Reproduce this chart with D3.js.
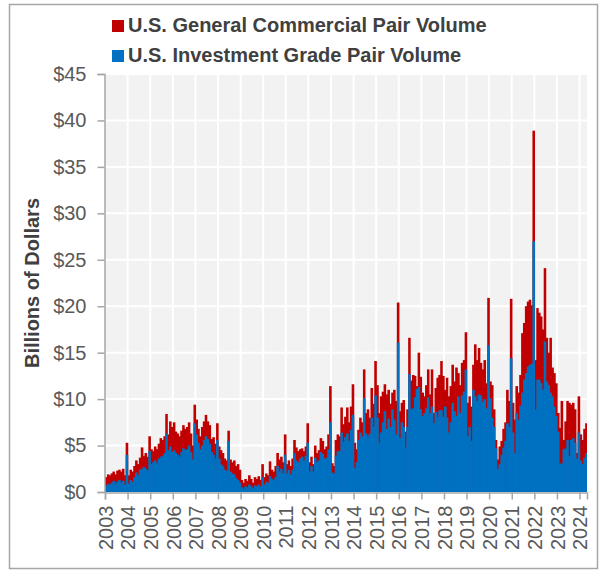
<!DOCTYPE html>
<html>
<head>
<meta charset="utf-8">
<script src="https://cdn.jsdelivr.net/npm/d3@7"></script>
<style>
  html, body { margin: 0; padding: 0; background: #fff; }
  svg { display: block; font-family: "Liberation Sans", Arial, sans-serif; }
</style>
</head>
<body>
<div id="chart"></div>
<script>
// monthly volumes, Jan 2003 .. Apr 2024 (billions of dollars)
// general commercial = full bar height, investment grade = blue part
const generalCommercial = [
  1.6, 1.9, 1.8, 2.0, 2.2, 1.9, 2.3, 2.4, 2.2, 2.5, 1.8, 5.3,        // 2003
  1.8, 2.4, 2.2, 2.8, 3.4, 3.0, 3.7, 4.8, 3.9, 4.2, 3.8, 6.0,        // 2004
  4.6, 4.4, 4.9, 4.6, 5.2, 5.8, 5.6, 6.0, 8.4, 6.2, 7.6, 7.0,        // 2005
  7.5, 6.5, 6.3, 6.0, 6.6, 7.2, 6.8, 7.0, 7.5, 6.3, 5.0, 9.4,        // 2006
  7.8, 6.8, 6.0, 7.0, 7.6, 8.3, 7.6, 7.2, 5.7, 5.9, 5.2, 7.4,        // 2007
  4.9, 4.5, 4.2, 3.6, 3.4, 6.6, 3.5, 3.2, 3.4, 2.8, 3.0, 2.4,        // 2008
  1.3, 1.0, 1.4, 1.2, 1.8, 1.4, 1.0, 1.6, 1.4, 1.7, 1.3, 3.0,        // 2009
  1.6, 2.0, 1.8, 3.3, 2.4, 2.2, 2.8, 4.2, 3.5, 3.8, 3.2, 6.2,        // 2010
  3.0, 3.4, 2.8, 3.6, 5.6, 4.8, 4.4, 4.6, 4.7, 4.4, 4.9, 7.4,        // 2011
  3.2, 3.8, 3.0, 5.0, 4.2, 4.5, 5.8, 5.5, 4.6, 4.9, 6.2, 11.4,       // 2012
  3.1, 2.8, 5.6, 6.2, 6.0, 9.1, 7.3, 8.1, 9.1, 7.5, 9.2, 11.6,       // 2013
  5.3, 4.6, 6.7, 8.0, 7.5, 13.2, 8.5, 8.9, 8.0, 11.2, 9.5, 14.1,     // 2014
  11.5, 8.5, 10.3, 10.8, 11.6, 10.5, 11.0, 9.5, 10.7, 11.0, 9.8, 20.4, // 2015
  8.7, 9.6, 9.9, 6.5, 8.9, 16.6, 12.0, 12.6, 12.5, 11.4, 15.0, 12.4, // 2016
  10.7, 10.3, 11.5, 13.2, 10.5, 13.2, 8.5, 11.2, 12.3, 12.6, 14.1, 12.5, // 2017
  11.0, 12.3, 10.3, 11.4, 13.7, 11.9, 13.4, 12.8, 11.5, 13.9, 14.2, 17.2, // 2018
  9.6, 10.3, 9.2, 13.7, 15.9, 14.2, 15.5, 13.9, 13.2, 14.2, 11.7, 20.9, // 2019
  11.9, 11.5, 8.9, 5.6, 3.5, 4.9, 5.5, 6.8, 7.5, 11.0, 9.8, 20.8,    // 2020
  9.6, 7.8, 11.4, 10.7, 12.6, 17.1, 18.2, 20.0, 20.5, 20.7, 20.1, 38.9, // 2021
  14.2, 19.8, 19.3, 18.9, 17.5, 24.1, 16.6, 15.0, 16.6, 13.4, 12.8, 11.7, // 2022
  8.5, 6.9, 9.8, 5.6, 7.6, 9.8, 9.6, 9.4, 9.6, 8.9, 4.2, 10.3,       // 2023
  6.2, 5.6, 6.8, 7.4                                                 // 2024
];

const investmentGrade = [
  0.7, 0.9, 0.8, 1.0, 1.2, 0.9, 1.1, 1.3, 1.0, 1.2, 0.8, 4.0,        // 2003
  0.9, 1.3, 1.1, 1.6, 2.1, 1.8, 2.4, 2.5, 2.7, 2.5, 2.3, 4.4,        // 2004
  3.0, 3.2, 3.4, 3.1, 3.6, 3.8, 3.9, 4.2, 6.3, 4.5, 4.9, 4.3,        // 2005
  4.5, 4.2, 4.0, 3.8, 4.3, 4.7, 4.5, 4.6, 5.0, 4.3, 3.5, 7.4,        // 2006
  6.2, 5.3, 4.6, 5.0, 5.6, 6.0, 5.7, 5.2, 4.3, 4.0, 3.6, 5.6,        // 2007
  3.6, 3.0, 2.8, 2.4, 2.3, 5.5, 2.2, 2.0, 1.9, 1.5, 1.3, 1.0,        // 2008
  0.5, 0.3, 0.6, 0.5, 0.8, 0.6, 0.4, 0.7, 0.6, 0.8, 0.6, 1.6,        // 2009
  0.8, 1.1, 1.0, 1.7, 1.4, 1.3, 1.6, 2.8, 2.2, 2.5, 2.0, 4.0,        // 2010
  2.0, 2.4, 1.9, 2.4, 4.2, 3.4, 3.2, 3.6, 3.8, 3.4, 3.9, 5.3,        // 2011
  2.2, 2.8, 2.2, 3.7, 3.2, 3.4, 4.3, 4.1, 3.6, 3.7, 4.6, 7.5,        // 2012
  2.1, 2.0, 3.9, 4.4, 4.4, 6.4, 5.4, 5.9, 6.3, 5.5, 6.7, 8.3,        // 2013
  2.6, 3.2, 5.6, 6.4, 6.0, 10.1, 6.3, 6.0, 6.3, 8.0, 7.0, 10.4,      // 2014
  8.0, 5.3, 6.4, 7.5, 8.7, 6.8, 7.9, 7.0, 8.9, 7.8, 6.2, 16.1,       // 2015
  5.8, 7.5, 7.0, 4.8, 7.0, 12.7, 8.9, 9.0, 10.2, 11.1, 11.3, 8.9,    // 2016
  8.2, 8.5, 9.0, 10.2, 8.5, 9.2, 7.4, 8.6, 8.1, 8.8, 8.8, 8.1,       // 2017
  9.2, 8.0, 6.4, 7.5, 9.6, 8.7, 8.2, 10.3, 8.5, 10.4, 10.8, 13.2,    // 2018
  6.0, 7.0, 5.5, 11.0, 10.3, 9.8, 10.5, 10.4, 9.7, 10.0, 9.0, 15.8,  // 2019
  10.1, 8.0, 7.0, 4.7, 2.5, 3.0, 4.0, 4.8, 5.5, 7.4, 7.0, 14.4,      // 2020
  6.4, 4.2, 8.5, 7.8, 9.3, 10.7, 12.1, 12.8, 13.5, 13.7, 13.8, 27.0, // 2021
  8.9, 12.1, 12.1, 11.7, 11.0, 16.2, 11.9, 11.5, 10.7, 10.3, 9.2, 8.2, // 2022
  6.5, 3.1, 3.0, 4.6, 4.7, 5.6, 3.9, 5.6, 5.8, 5.3, 3.6, 6.4,        // 2023
  3.4, 3.0, 3.7, 4.2                                                 // 2024
];

const years = [2003, 2004, 2005, 2006, 2007, 2008, 2009, 2010, 2011, 2012, 2013,
               2014, 2015, 2016, 2017, 2018, 2019, 2020, 2021, 2022, 2023, 2024];
const yTicks = [0, 5, 10, 15, 20, 25, 30, 35, 40, 45];
const seriesNames = ["U.S. General Commercial Pair Volume", "U.S. Investment Grade Pair Volume"];
const seriesColors = ["#c00000", "#0070c0"];

(function () {
    const width = 601, height = 571;
    const margin = { top: 74, right: 14, bottom: 79, left: 105 };

    const svg = d3.select("#chart").append("svg")
        .attr("width", width)
        .attr("height", height);

    // outer frame
    svg.append("rect")
        .attr("x", 9.5).attr("y", 4.5)
        .attr("width", 588).attr("height", 564)
        .attr("fill", "none")
        .attr("stroke", "#a6a6a6")
        .attr("stroke-width", 1.5);

    const months = generalCommercial.map((_, i) => new Date(years[0], i, 1));
    const endDate = new Date(years[0], months.length, 1);

    const x = d3.scaleTime()
        .domain([months[0], endDate])
        .range([margin.left, width - margin.right]);

    const y = d3.scaleLinear()
        .domain([0, 45])
        .range([height - margin.bottom, margin.top]);

    // plot background
    svg.append("rect")
        .attr("x", x.range()[0]).attr("y", y(45))
        .attr("width", x.range()[1] - x.range()[0])
        .attr("height", y(0) - y(45))
        .attr("fill", "#f2f2f2");

    // gridlines
    const grid = svg.append("g").attr("stroke", "#fff").attr("stroke-width", 2);
    grid.selectAll("line.h")
        .data(yTicks.slice(1))
        .join("line")
        .attr("class", "h")
        .attr("x1", x.range()[0]).attr("x2", x.range()[1])
        .attr("y1", d => y(d)).attr("y2", d => y(d));
    grid.selectAll("line.v")
        .data(years.slice(1))
        .join("line")
        .attr("class", "v")
        .attr("x1", d => x(new Date(d, 0, 1))).attr("x2", d => x(new Date(d, 0, 1)))
        .attr("y1", y(45)).attr("y2", y(0));

    // slight overlap so neighbouring bars don't show seams
    const barW = i => Math.min(x(new Date(years[0], i + 1, 1)), x.range()[1]) - x(months[i]) + (i < months.length - 1 ? 0.7 : 0);

    // general commercial (full height) then investment grade in front
    svg.append("g")
        .attr("fill", seriesColors[0])
        .selectAll("rect")
        .data(generalCommercial)
        .join("rect")
        .attr("x", (d, i) => x(months[i]))
        .attr("width", (d, i) => barW(i))
        .attr("y", d => y(d))
        .attr("height", d => y(0) - y(d));

    svg.append("g")
        .attr("fill", seriesColors[1])
        .selectAll("rect")
        .data(investmentGrade)
        .join("rect")
        .attr("x", (d, i) => x(months[i]))
        .attr("width", (d, i) => barW(i))
        .attr("y", d => y(d))
        .attr("height", d => y(0) - y(d));

    // axes
    const yAxis = svg.append("g")
        .attr("transform", `translate(${x.range()[0] - 0.5},0)`)
        .call(d3.axisLeft(y).tickValues(yTicks).tickFormat(d => "$" + d).tickSize(7).tickPadding(11));

    const xAxis = svg.append("g")
        .attr("transform", `translate(0,${y(0) + 0.5})`)
        .call(d3.axisBottom(x)
            .tickValues(years.map(d => new Date(d, 0, 1)))
            .tickFormat(d3.timeFormat("%Y"))
            .tickSize(7));

    xAxis.selectAll("text")
        .attr("transform", "rotate(-90)")
        .attr("x", -13)
        .attr("y", 0)
        .attr("dy", "0.36em")
        .style("text-anchor", "end");

    [yAxis, xAxis].forEach(a => {
        a.select(".domain").attr("stroke", "#a6a6a6").attr("stroke-width", 1.5);
        a.selectAll(".tick line").attr("stroke", "#a6a6a6").attr("stroke-width", 1.5);
        a.selectAll("text")
            .attr("fill", "#595959")
            .style("font-size", "20px")
            .style("font-family", "'Liberation Sans', Arial, sans-serif");
    });

    // y title
    svg.append("text")
        .attr("transform", "translate(39,283) rotate(-90)")
        .attr("text-anchor", "middle")
        .attr("fill", "#404040")
        .style("font-size", "20px")
        .style("font-weight", "bold")
        .text("Billions of Dollars");

    // legend
    const legend = svg.append("g")
        .selectAll("g")
        .data(seriesNames)
        .join("g")
        .attr("transform", (d, i) => `translate(112,${20 + i * 30})`);

    legend.append("rect")
        .attr("width", 12).attr("height", 12)
        .attr("fill", (d, i) => seriesColors[i]);

    legend.append("text")
        .attr("x", 16).attr("y", 12)
        .attr("fill", "#404040")
        .style("font-size", "20px")
        .style("font-weight", "bold")
        .text(d => d);
})();
</script>
</body>
</html>
